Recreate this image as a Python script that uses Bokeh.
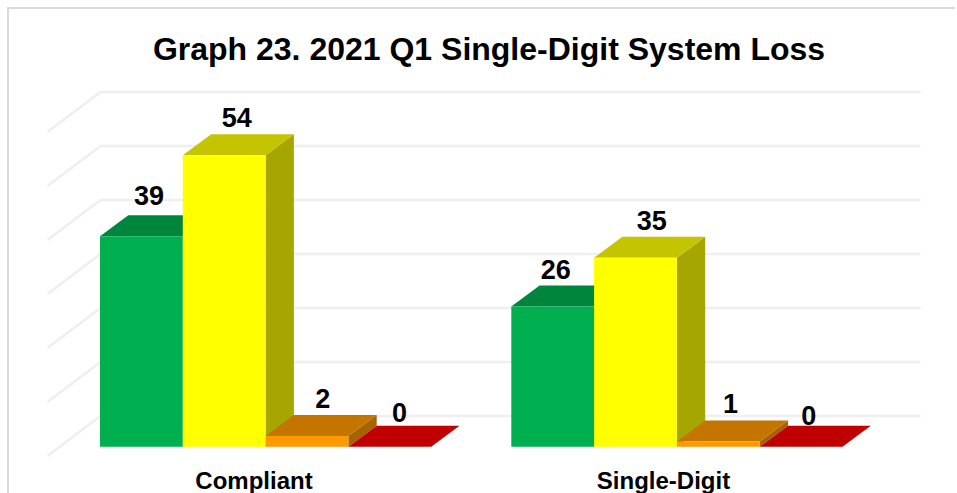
from bokeh.plotting import figure
from bokeh.models import FixedTicker, Range1d
from bokeh.core.properties import value
from bokeh.embed import file_html
from bokeh.resources import INLINE

categories = ["Compliant", "Single-Digit"]
green = [39, 26]
yellow = [54, 35]
orange = [2, 1]
red = [0, 0]
y_ticks = [0, 10, 20, 30, 40, 50, 60]

FACE = ["#00B050", "#FFFF00", "#FF9900", "#FF0000"]
TOP = ["#00863C", "#C4C400", "#C47500", "#C00000"]
SIDE = ["#006C30", "#A6A600", "#A66300", "#A00000"]

# layout, in page pixels
MARGIN = 7
ORIGIN = MARGIN + 2  # margin plus the 2px border
W, H = 957 - ORIGIN, 493 - MARGIN
PX_U = 5.4          # pixels per value unit
BW = 82.8           # bar width
GROUP_X = [99.5, 510.8]
CAT_X = [253.5, 663]
BAR_BASE_Y = 446.3
DX, DY = 28.3, 21   # bar depth offset
FDX, FDY = 53, 40   # floor depth offset
BACK_ZERO = 415.5
BACK_X0, BACK_X1 = 100, 920
FL, FT, FB = 20, 78, 495    # frame left/top/bottom
AXIS_Y = 460
# per-label nudges of the value labels: (series, group) -> px
LABEL_DX = [[-6.5, -11], [-1.5, 2], [1.5, -2], [-4.5, -6.5]]
LABEL_GAP = [[10, 6], [7, 6], [7, 7], [3, 0]]
LABEL_BASE_SHIFT = 10

back_v0 = (BAR_BASE_Y - BACK_ZERO) / PX_U
fdy_v = FDY / PX_U
dy_v = DY / PX_U

p = figure(width=W, height=H, output_backend="svg", toolbar_location=None,
           x_range=Range1d(FL, 957),
           y_range=Range1d((BAR_BASE_Y - FB) / PX_U, (BAR_BASE_Y - FT) / PX_U),
           title="Graph 23. 2021 Q1 Single-Digit System Loss",
           min_border_left=FL - ORIGIN, min_border_right=0,
           min_border_top=FT - ORIGIN, min_border_bottom=0)
p.margin = (MARGIN, 0, 0, MARGIN)
p.title.align = "center"
p.title.text_font = "Liberation Sans"
p.title.text_font_size = "32px"
p.title.text_font_style = "bold"
p.title.text_color = "#000000"
p.title.standoff = 24
p.xgrid.visible = False
p.ygrid.visible = False
p.yaxis.visible = False
p.outline_line_color = None
p.background_fill_color = "#FFFFFF"
p.styles = {"border-left": "2px solid #D9D9D9", "border-top": "2px solid #D9D9D9"}

ax = p.xaxis[0]
ax.fixed_location = (BAR_BASE_Y - AXIS_Y) / PX_U
ax.ticker = FixedTicker(ticks=CAT_X)
ax.major_label_overrides = {c: t for c, t in zip(CAT_X, categories)}
ax.axis_line_color = None
ax.major_tick_line_color = None
ax.minor_tick_line_color = None
ax.major_label_text_font = "Liberation Sans"
ax.major_label_text_font_size = "24px"
ax.major_label_text_font_style = "bold"
ax.major_label_text_color = "#000000"
ax.major_label_standoff = 0

xs, ys = [], []
for t in y_ticks:
    yb = back_v0 + t
    xs.append([BACK_X0 - FDX, BACK_X0, BACK_X1])
    ys.append([yb - fdy_v, yb, yb])
p.multi_line(xs, ys, line_color="#EFEFEF", line_width=2.5)

series = [green, yellow, orange, red]
for g, gx in enumerate(GROUP_X):
    for s, vals in enumerate(series):
        v = vals[g]
        x0 = gx + s * BW
        x1 = x0 + BW
        if v > 0:
            p.patch([x1, x1 + DX, x1 + DX, x1], [0, dy_v, v + dy_v, v],
                    fill_color=SIDE[s], line_color=None)
        p.patch([x0, x1, x1 + DX, x0 + DX], [v, v, v + dy_v, v + dy_v],
                fill_color=TOP[s], line_color=None)
        if v > 0:
            p.patch([x0, x1, x1, x0], [0, 0, v, v], fill_color=FACE[s], line_color=None)

for g, gx in enumerate(GROUP_X):
    for s, vals in enumerate(series):
        v = vals[g]
        cx = gx + s * BW + BW / 2 + DX / 2 + LABEL_DX[s][g]
        p.text([cx], [v + dy_v + (LABEL_GAP[s][g] + LABEL_BASE_SHIFT) / PX_U], text=[str(v)],
               text_font=value("Liberation Sans"), text_font_style="bold",
               text_font_size="27px", text_color="#000000",
               text_align="center", text_baseline="alphabetic")

open("out.html", "w").write(file_html(p, INLINE))
